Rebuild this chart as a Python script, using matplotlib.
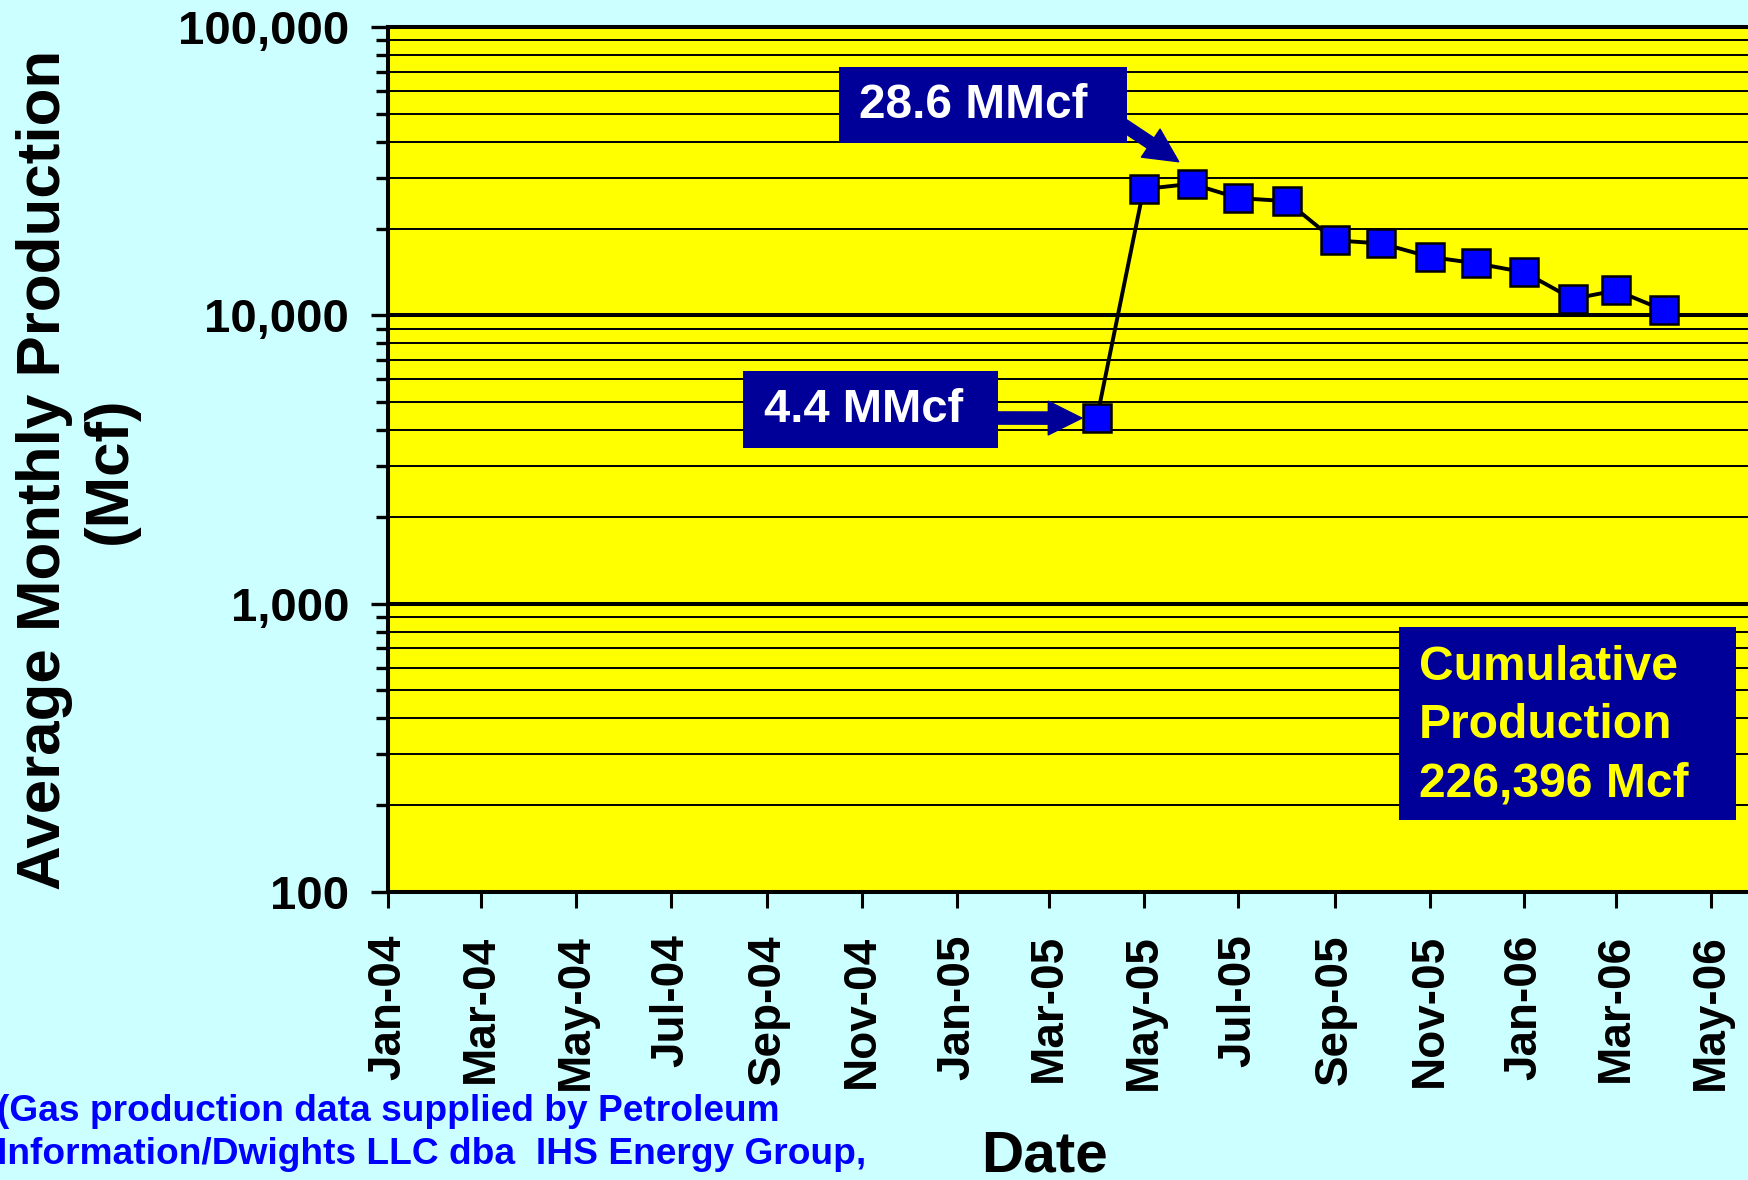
import datetime as dt

import matplotlib
matplotlib.use("Agg")
import matplotlib.pyplot as plt
import matplotlib.dates as mdates
import matplotlib.ticker as mticker
from matplotlib.patches import Rectangle
from matplotlib.transforms import offset_copy

# ---- data -------------------------------------------------------------
months = ["2005-04", "2005-05", "2005-06", "2005-07", "2005-08", "2005-09",
          "2005-10", "2005-11", "2005-12", "2006-01", "2006-02", "2006-03",
          "2006-04"]
production_mcf = [4400, 27400, 28600, 25500, 24900, 18200, 17750, 15950,
                  15150, 14100, 11400, 12200, 10400]

y_ticks = [100, 1000, 10000, 100000]
y_tick_labels = ["100", "1,000", "10,000", "100,000"]

first_label = "4.4 MMcf"
peak_label = "28.6 MMcf"
cum_label = "Cumulative\nProduction\n226,396 Mcf"
source_note = ("(Gas production data supplied by Petroleum\n"
               "Information/Dwights LLC dba  IHS Energy Group,")

dates = [dt.datetime.strptime(m, "%Y-%m") for m in months]
date_nums = mdates.date2num(dates)

# ---- style ------------------------------------------------------------
W, H, DPI = 1749, 1180, 100
BG = "#CCFFFF"
PLOT_BG = "#FFFF00"
NAVY = "#000099"
FONT = "Liberation Sans"
plt.rcParams["font.family"] = [FONT, "DejaVu Sans"]
plt.rcParams["font.weight"] = "bold"

fig = plt.figure(figsize=(W / DPI, H / DPI), dpi=DPI, facecolor=BG)

# axes geometry (pixel layout, measured from the top-left corner)
left_px, top_px, bottom_px = 388, 27, 892
x_start = dt.datetime(2004, 1, 1)
x_end = dt.datetime(2006, 7, 1)
px_per_day = (1711 - 388) / (dt.datetime(2006, 5, 1) - x_start).days
width_px = (x_end - x_start).days * px_per_day

ax = fig.add_axes([left_px / W, 1 - bottom_px / H, width_px / W,
                   (bottom_px - top_px) / H])
ax.set_facecolor(PLOT_BG)
ax.set_xlim(x_start, x_end)
ax.set_yscale("log")
ax.set_ylim(100, 100000)

# y axis
ax.set_yticks(y_ticks)
ax.set_yticklabels(y_tick_labels)
ax.yaxis.set_minor_locator(mticker.LogLocator(base=10, subs=range(2, 10)))
ax.yaxis.set_minor_formatter(mticker.NullFormatter())
ax.yaxis.grid(True, which="major", color="black", lw=2.9)
ax.yaxis.grid(True, which="minor", color="black", lw=1.4)
ax.set_axisbelow(True)
ax.tick_params(axis="y", which="major", length=12, width=2.4, pad=16,
               labelsize=34)
ax.tick_params(axis="y", which="minor", length=9, width=2.4)

# x axis: every second month
ax.xaxis.set_major_locator(mdates.MonthLocator(bymonth=[1, 3, 5, 7, 9, 11]))
ax.xaxis.set_major_formatter(mdates.DateFormatter("%b-%y"))
ax.tick_params(axis="x", which="major", length=11.5, width=2.2, pad=19,
               labelsize=33, labelrotation=90)
for lbl in ax.get_xticklabels():
    lbl.set_va("top")
    lbl.set_ha("center")

for side in ("left", "bottom", "top"):
    ax.spines[side].set_linewidth(2.9)
    ax.spines[side].set_color("black")
ax.spines["right"].set_visible(False)

# series
ax.plot(date_nums, production_mcf, color="black", lw=2.8, marker="s",
        markersize=20, markerfacecolor="#0000FF", markeredgecolor="black",
        markeredgewidth=1.8, zorder=3)

# ---- axis titles and notes -------------------------------------------
fig.text(77 / W, 1 - 470 / H, "Average Monthly Production\n(Mcf)",
         rotation=90, ha="center", va="center", multialignment="center",
         fontsize=44.6, fontweight="bold", linespacing=1.2)
fig.text(1045 / W, 1 - 1130 / H, "Date", ha="center", va="top",
         fontsize=42, fontweight="bold")
fig.text(-3 / W, 1 - 1094 / H, source_note, ha="left", va="top",
         fontsize=26.7, fontweight="bold", color="#0000FF", linespacing=1.28)


# ---- callout boxes ----------------------------------------------------
def box(x0, y0, x1, y1):
    fig.add_artist(Rectangle((x0 / W, 1 - y1 / H), (x1 - x0) / W,
                             (y1 - y0) / H, transform=fig.transFigure,
                             facecolor=NAVY, edgecolor="none", zorder=5))


arrow_style = "simple,head_length=1.1,head_width=1.1,tail_width=0.4"

# peak month: arrow points at the upper-left corner of the marker
peak_tip = offset_copy(ax.transData, fig=fig, x=-13, y=22, units="dots")
ax.annotate("", xy=(date_nums[2], float(production_mcf[2])),
            xycoords=peak_tip,
            xytext=(1122, H - 124), textcoords="figure pixels",
            arrowprops=dict(arrowstyle=arrow_style, color=NAVY,
                            mutation_scale=22, shrinkA=0, shrinkB=0),
            zorder=4)
box(839, 67, 1127, 143)
fig.text(859 / W, 1 - 105 / H, peak_label, ha="left", va="center",
         fontsize=34.4, fontweight="bold", color="white", zorder=6)

# first month: arrow ends at the left edge of the marker
first_tip = offset_copy(ax.transData, fig=fig, x=-15, y=0, units="dots")
ax.annotate("", xy=(date_nums[0], float(production_mcf[0])),
            xycoords=first_tip,
            xytext=(994, H - 418), textcoords="figure pixels",
            arrowprops=dict(arrowstyle=arrow_style, color=NAVY,
                            mutation_scale=22, shrinkA=0, shrinkB=0),
            zorder=4)
box(743, 371, 998, 448)
fig.text(764 / W, 1 - 410 / H, first_label, ha="left", va="center",
         fontsize=34, fontweight="bold", color="white", zorder=6)

# cumulative total
box(1399, 627, 1736, 820)
fig.text(1419 / W, 1 - 726 / H, cum_label, ha="left", va="center",
         fontsize=34.6, fontweight="bold", color="#FFFF00", linespacing=1.38,
         zorder=6)

fig.savefig("out.png", dpi=DPI, facecolor=BG)
